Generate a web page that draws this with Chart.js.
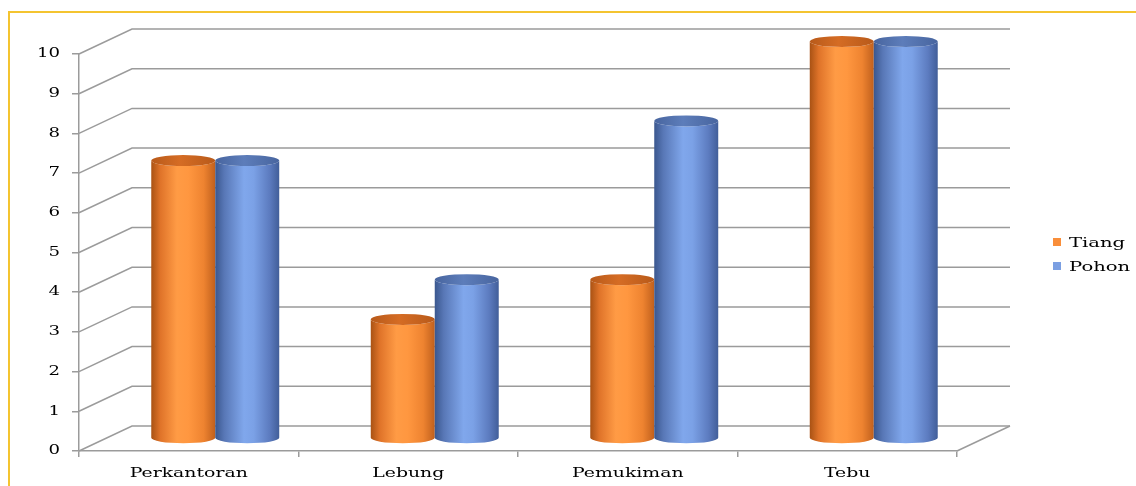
<!DOCTYPE html>
<html>
<head>
<meta charset="utf-8">
<script src="https://cdn.jsdelivr.net/npm/chart.js@4/dist/chart.umd.min.js"></script>
<style>
  html, body { margin: 0; padding: 0; background: #ffffff; }
  canvas { display: block; }
</style>
</head>
<body>
<canvas id="c" width="1136" height="486"></canvas>
<script>
// ---- data ----
const categories = ['Perkantoran', 'Lebung', 'Pemukiman', 'Tebu'];
const seriesNames = ['Tiang', 'Pohon'];
const tiangValues = [7, 3, 4, 10];
const pohonValues = [7, 4, 8, 10];
const yMin = 0, yMax = 10, yStep = 1;

// ---- style ----
const DX = 53, DY = -25;           // 3D depth offset
const RY = 5.5;                     // ellipse half-height of cylinder caps
const GRID = '#9b9b9b';
const X_FONT = 13, Y_FONT = 12.5, LEG_FONT = 13.5;
const TEXT_STRETCH = 1.45;          // wide-glyph look of the original
const styles = [
  { legend: '#F98E3A', top: '#d56c24', topEdge: '#b85a1a',
    stops: [[0, '#a95214'], [0.14, '#df7329'], [0.4, '#ff9b45'], [0.58, '#ff9740'], [0.82, '#ee8330'], [1, '#c0601d']] },
  { legend: '#7B9FE2', top: '#5d7dba', topEdge: '#48659f',
    stops: [[0, '#3a578e'], [0.14, '#5877b6'], [0.45, '#80a7ec'], [0.6, '#7ba1e6'], [0.85, '#5c7bbf'], [1, '#415e99']] }
];
const FAMILY = '"DejaVu Serif", "Liberation Serif", serif';

Chart.defaults.font.family = FAMILY;
Chart.defaults.color = '#000000';

function patchText(ctx) {
  if (ctx.__stretched) return;
  const orig = ctx.fillText;
  ctx.fillText = function (t, x, y, mw) {
    this.save();
    this.translate(x, y);
    this.scale(TEXT_STRETCH, 1);
    orig.call(this, t, 0, 0);
    this.restore();
  };
  ctx.__stretched = true;
}

const threeD = {
  id: 'threeD',
  beforeDraw(chart) {
    const ctx = chart.ctx;
    patchText(ctx);
    ctx.save();
    ctx.strokeStyle = '#F4C430';
    ctx.lineWidth = 2;
    ctx.beginPath();
    ctx.moveTo(9, chart.height);
    ctx.lineTo(9, 12);
    ctx.lineTo(chart.width, 12);
    ctx.stroke();
    ctx.restore();
  },
  beforeDatasetsDraw(chart) {
    const { ctx, chartArea: { left, right, bottom }, scales: { y } } = chart;
    ctx.save();
    ctx.strokeStyle = GRID;
    ctx.lineWidth = 1.5;
    y.ticks.forEach(t => {
      const py = y.getPixelForValue(t.value);
      ctx.beginPath();
      ctx.moveTo(left, py);
      ctx.lineTo(left + DX, py + DY);
      ctx.lineTo(right + DX, py + DY);
      ctx.stroke();
    });
    ctx.beginPath();
    ctx.moveTo(right, bottom);
    ctx.lineTo(right + DX, bottom + DY);
    ctx.stroke();
    ctx.restore();
  },
  afterDatasetsDraw(chart) {
    const ctx = chart.ctx;
    const n = chart.data.labels.length;
    for (let i = 0; i < n; i++) {
      chart.data.datasets.forEach((ds, di) => {
        const bar = chart.getDatasetMeta(di).data[i];
        const p = bar.getProps(['x', 'y', 'base', 'width'], true);
        const st = styles[di];
        const cx = p.x + DX / 2, rx = p.width / 2;
        const yt = p.y + DY / 2, yb = p.base + DY / 2;
        ctx.save();
        const g = ctx.createLinearGradient(cx - rx, 0, cx + rx, 0);
        st.stops.forEach(s => g.addColorStop(s[0], s[1]));
        ctx.fillStyle = g;
        ctx.beginPath();
        ctx.moveTo(cx - rx, yt);
        ctx.lineTo(cx - rx, yb);
        ctx.ellipse(cx, yb, rx, RY, 0, Math.PI, 0, true);
        ctx.lineTo(cx + rx, yt);
        ctx.ellipse(cx, yt, rx, RY, 0, 0, Math.PI, false);
        ctx.closePath();
        ctx.fill();
        const tg = ctx.createLinearGradient(cx - rx, 0, cx + rx, 0);
        tg.addColorStop(0, st.topEdge);
        tg.addColorStop(0.45, st.top);
        tg.addColorStop(1, st.topEdge);
        ctx.fillStyle = tg;
        ctx.beginPath();
        ctx.ellipse(cx, yt, rx, RY, 0, 0, Math.PI * 2);
        ctx.fill();
        ctx.restore();
      });
    }
  },
  afterDraw(chart) {
    const ctx = chart.ctx;
    ctx.save();
    ctx.font = LEG_FONT + 'px ' + FAMILY;
    ctx.textBaseline = 'middle';
    ctx.textAlign = 'left';
    chart.data.datasets.forEach((ds, di) => {
      const yy = 242 + di * 24;
      ctx.fillStyle = styles[di].legend;
      ctx.fillRect(1053, yy - 4, 8, 8);
      ctx.fillStyle = '#000000';
      ctx.fillText(ds.label, 1069, yy + 1);
    });
    ctx.restore();
  }
};

new Chart(document.getElementById('c'), {
  type: 'bar',
  data: {
    labels: categories,
    datasets: [
      { label: seriesNames[0], data: tiangValues, backgroundColor: 'rgba(0,0,0,0)', borderWidth: 0 },
      { label: seriesNames[1], data: pohonValues, backgroundColor: 'rgba(0,0,0,0)', borderWidth: 0 }
    ]
  },
  options: {
    responsive: false,
    devicePixelRatio: 1,
    animation: false,
    events: [],
    layout: { padding: { left: 0, right: 179, top: 54, bottom: 0 } },
    datasets: { bar: { categoryPercentage: 0.583, barPercentage: 1.0 } },
    plugins: { legend: { display: false }, tooltip: { enabled: false } },
    scales: {
      x: {
        offset: true,
        grid: { offset: true, drawOnChartArea: false, drawTicks: true, tickLength: 6, color: GRID, lineWidth: 1.5 },
        border: { display: true, color: GRID, width: 1.5 },
        ticks: { font: { size: X_FONT }, color: '#000', padding: 9, maxRotation: 0 },
        afterFit(s) { s.height = 35; }
      },
      y: {
        min: yMin, max: yMax,
        grid: { drawOnChartArea: false, drawTicks: true, tickLength: 7, color: GRID, lineWidth: 1.5 },
        border: { display: true, color: GRID, width: 1.5 },
        ticks: { stepSize: yStep, font: { size: Y_FONT }, color: '#000', padding: 12 },
        afterFit(s) { s.width = 79; }
      }
    }
  },
  plugins: [threeD]
});
</script>
</body>
</html>
